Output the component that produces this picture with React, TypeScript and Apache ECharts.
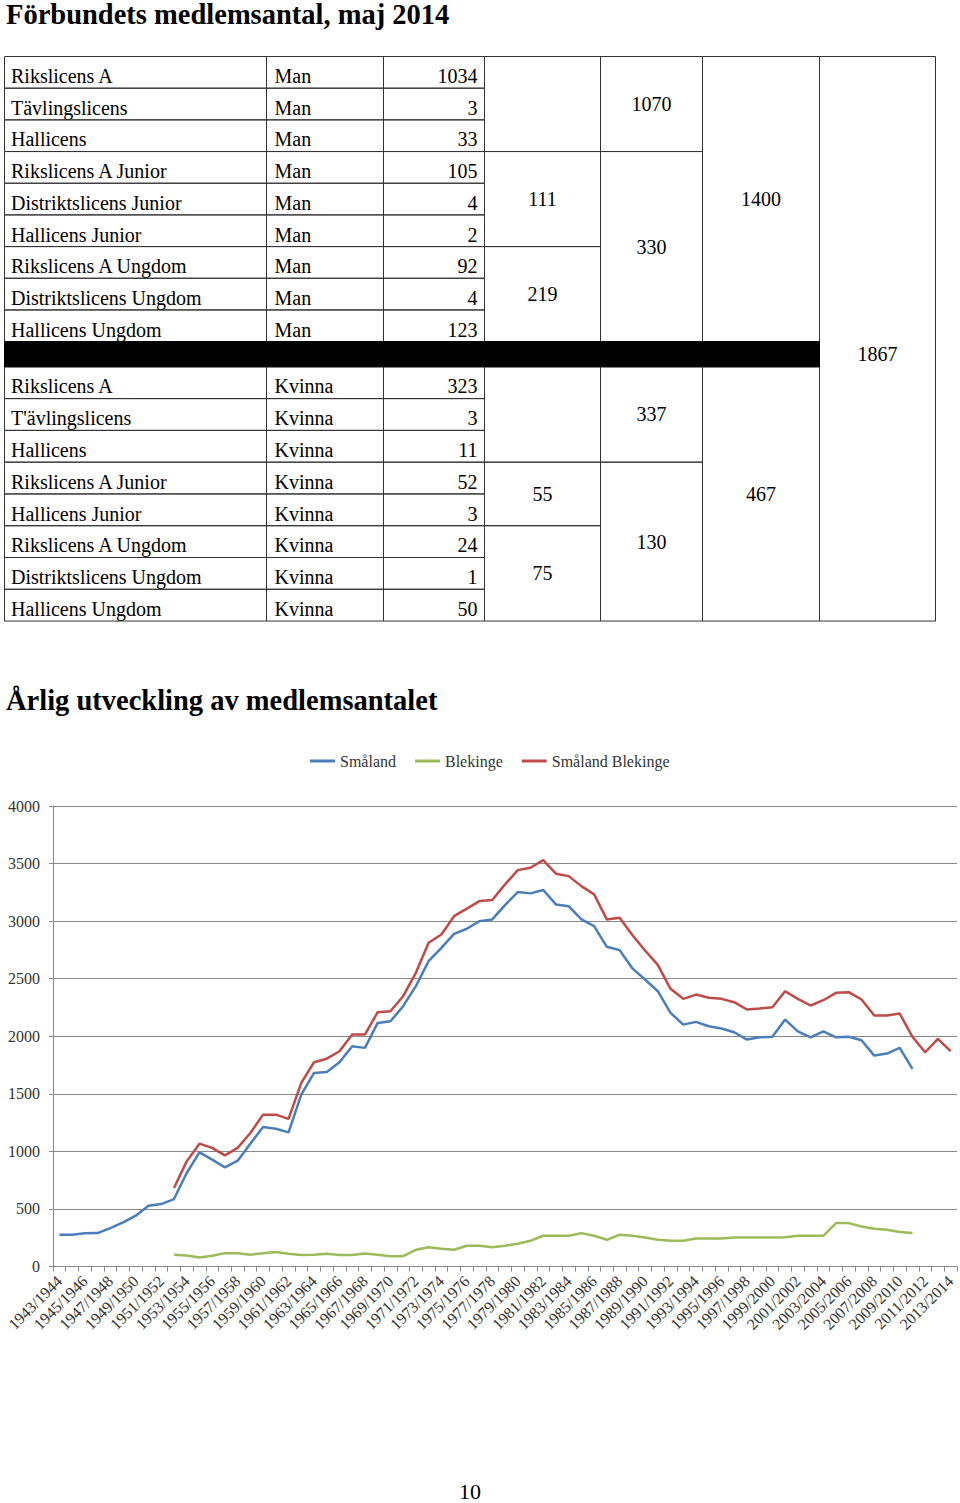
import React, { useEffect, useRef } from "react";
import * as echarts from "echarts";

// ---------- DATA ----------
const pageTitle = "Förbundets medlemsantal, maj 2014";
const chartTitle = "Årlig utveckling av medlemsantalet";
const pageNumber = "10";

const manNames = [
  "Rikslicens A",
  "Tävlingslicens",
  "Hallicens",
  "Rikslicens A Junior",
  "Distriktslicens Junior",
  "Hallicens Junior",
  "Rikslicens A Ungdom",
  "Distriktslicens Ungdom",
  "Hallicens Ungdom",
];
const manValues = [1034, 3, 33, 105, 4, 2, 92, 4, 123];
// merged sub-totals: [firstRow, endRowExclusive, text]
const manGroupCol4: [number, number, string][] = [[0, 3, ""], [3, 6, "111"], [6, 9, "219"]];
const manGroupCol5: [number, number, string][] = [[0, 3, "1070"], [3, 9, "330"]];
const manGroupCol6: [number, number, string][] = [[0, 9, "1400"]];

const kvinnaNames = [
  "Rikslicens A",
  "T'ävlingslicens",
  "Hallicens",
  "Rikslicens A Junior",
  "Hallicens Junior",
  "Rikslicens A Ungdom",
  "Distriktslicens Ungdom",
  "Hallicens Ungdom",
];
const kvinnaValues = [323, 3, 11, 52, 3, 24, 1, 50];
const kvGroupCol4: [number, number, string][] = [[0, 3, ""], [3, 5, "55"], [5, 8, "75"]];
const kvGroupCol5: [number, number, string][] = [[0, 3, "337"], [3, 8, "130"]];
const kvGroupCol6: [number, number, string][] = [[0, 8, "467"]];
const grandTotal = "1867";

const seasons: string[] = [];
for (let y = 1943; y <= 2013; y++) seasons.push(`${y}/${y + 1}`);

const seriesNames = ["Småland", "Blekinge", "Småland Blekinge"];

const smaland: (number | null)[] = [
  276, 275, 288, 290, 334, 383, 441, 528, 542, 586,
  812, 991, 928, 861, 919, 1067, 1212, 1197, 1165, 1493,
  1681, 1690, 1774, 1913, 1899, 2116, 2130, 2261, 2435, 2652,
  2768, 2890, 2934, 3000, 3015, 3139, 3252, 3241, 3270, 3145,
  3130, 3015, 2957, 2777, 2748, 2590, 2493, 2391, 2203, 2101,
  2125, 2087, 2067, 2035, 1971, 1991, 1995, 2145, 2043, 1991,
  2043, 1991, 1995, 1965, 1832, 1850, 1899, 1716, null, null,
  null,
];

const blekinge: (number | null)[] = [
  null, null, null, null, null, null, null, null, null, 102,
  96, 79, 93, 116, 116, 102, 116, 125, 110, 99,
  102, 110, 99, 99, 113, 102, 90, 90, 145, 168,
  154, 145, 180, 180, 168, 180, 197, 223, 267, 267,
  267, 290, 267, 232, 276, 267, 252, 232, 223, 223,
  244, 244, 244, 252, 252, 252, 252, 255, 267, 267,
  267, 377, 377, 348, 328, 319, 299, 290, null, null,
  null,
];

const smalandBlekinge: (number | null)[] = [
  null, null, null, null, null, null, null, null, null, 682,
  913, 1067, 1030, 965, 1030, 1160, 1319, 1319, 1282, 1595,
  1774, 1805, 1870, 2015, 2015, 2209, 2217, 2348, 2551, 2812,
  2884, 3043, 3108, 3174, 3183, 3319, 3443, 3464, 3530, 3412,
  3391, 3304, 3232, 3015, 3030, 2880, 2745, 2620, 2412, 2325,
  2362, 2334, 2325, 2296, 2232, 2241, 2252, 2391, 2325, 2267,
  2313, 2377, 2383, 2319, 2180, 2180, 2197, 1995, 1861, 1977,
  1870,
];

// ---------- STYLE / LAYOUT ----------
const FONT = '"Liberation Serif", "Times New Roman", serif';
const LINE = "#333333";
const colX = [4.5, 266.5, 383.5, 484.5, 600.5, 702.5, 819.5, 935.5];
const manTop = 56.5;
const manRowH = 31.68;
const barTop = manTop + 9 * manRowH;
const barH = 25.2;
const kvTop = barTop + barH;
const kvRowH = 31.78;
const tableBottom = kvTop + 8 * kvRowH;

function rectEl(x: number, y: number, w: number, h: number, fill = "none") {
  return {
    type: "rect",
    silent: true,
    shape: { x, y, width: w, height: h },
    style: { fill, stroke: fill === "none" ? LINE : fill, lineWidth: 1 },
  };
}

function textEl(
  text: string,
  x: number,
  y: number,
  align: string,
  size: number,
  weight = "normal"
) {
  return {
    type: "text",
    silent: true,
    style: {
      text,
      x,
      y,
      fill: "#000",
      fontSize: size,
      fontFamily: FONT,
      fontWeight: weight,
      align,
      textAlign: align,
      verticalAlign: "middle",
      textVerticalAlign: "middle",
    },
  };
}

function buildTable() {
  const els: any[] = [];
  const block = (
    top: number,
    rowH: number,
    names: string[],
    gender: string,
    values: number[],
    g4: [number, number, string][],
    g5: [number, number, string][],
    g6: [number, number, string][]
  ) => {
    names.forEach((name, i) => {
      const y = top + i * rowH;
      els.push(rectEl(colX[0], y, colX[1] - colX[0], rowH));
      els.push(rectEl(colX[1], y, colX[2] - colX[1], rowH));
      els.push(rectEl(colX[2], y, colX[3] - colX[2], rowH));
      els.push(textEl(name, 11, y + 19.6, "left", 20));
      els.push(textEl(gender, 274.5, y + 19.6, "left", 20));
      els.push(textEl(String(values[i]), colX[3] - 7, y + 19.6, "right", 20));
    });
    const groups: [number, [number, number, string][]][] = [[3, g4], [4, g5], [5, g6]];
    groups.forEach(([c, gs]) => {
      gs.forEach(([a, b, t]) => {
        const y = top + a * rowH;
        const h = (b - a) * rowH;
        els.push(rectEl(colX[c], y, colX[c + 1] - colX[c], h));
        if (t) els.push(textEl(t, (colX[c] + colX[c + 1]) / 2, y + h / 2, "center", 20));
      });
    });
  };
  block(manTop, manRowH, manNames, "Man", manValues, manGroupCol4, manGroupCol5, manGroupCol6);
  block(kvTop, kvRowH, kvinnaNames, "Kvinna", kvinnaValues, kvGroupCol4, kvGroupCol5, kvGroupCol6);
  els.push(rectEl(colX[6], manTop, colX[7] - colX[6], tableBottom - manTop));
  els.push(rectEl(colX[0], barTop, colX[6] - colX[0], barH, "#000"));
  els.push(textEl(grandTotal, (colX[6] + colX[7]) / 2, barTop + barH / 2, "center", 20));
  return els;
}

export default function App() {
  const ref = useRef<HTMLDivElement>(null);
  useEffect(() => {
    document.body.style.background = "#fff";
    const chart = echarts.init(ref.current!, null, { renderer: "svg" });
    const lineColors = ["#4a7ebb", "#9bbb59", "#be4b48"];
    const datasets = [smaland, blekinge, smalandBlekinge];
    const option: any = {
      animation: false,
      backgroundColor: "#ffffff",
      textStyle: { fontFamily: FONT },
      legend: {
        left: 305,
        top: 748,
        icon: "rect",
        itemWidth: 25,
        itemHeight: 3,
        itemGap: 19,
        data: seriesNames,
        textStyle: { fontSize: 16, color: "#333", fontFamily: FONT },
      },
      grid: {
        left: 53,
        top: 806,
        width: 904,
        height: 460.5,
        containLabel: false,
        outerBoundsMode: "none",
      },
      xAxis: {
        type: "category",
        data: seasons,
        boundaryGap: true,
        axisLine: { show: true, lineStyle: { color: "#888", width: 1 } },
        axisTick: {
          show: true,
          interval: 0,
          alignWithLabel: false,
          length: 5,
          lineStyle: { color: "#888" },
        },
        axisLabel: {
          interval: 1,
          rotate: 45,
          fontSize: 16,
          color: "#333",
          margin: 12,
          fontFamily: FONT,
        },
        splitLine: { show: false },
      },
      yAxis: {
        type: "value",
        min: 0,
        max: 4000,
        interval: 500,
        axisLine: { show: true, lineStyle: { color: "#888", width: 1 } },
        axisTick: { show: true, length: 4, lineStyle: { color: "#888" } },
        splitLine: { show: true, lineStyle: { color: "#888", width: 1 } },
        axisLabel: {
          fontSize: 16,
          color: "#333",
          margin: 13,
          fontFamily: FONT,
          formatter: (v: number) => String(v),
        },
      },
      series: seriesNames.map((name, i) => ({
        name,
        type: "line",
        data: datasets[i],
        symbol: "none",
        showSymbol: false,
        connectNulls: false,
        color: lineColors[i],
        lineStyle: { color: lineColors[i], width: 2.5 },
        itemStyle: { color: lineColors[i] },
        emphasis: { disabled: true },
      })),
      graphic: {
        elements: [
          textEl(pageTitle, 6, 14, "left", 28.5, "bold"),
          ...buildTable(),
          textEl(chartTitle, 6, 700.5, "left", 28.5, "bold"),
          textEl(pageNumber, 470, 1491, "center", 22),
        ],
      },
    };
    chart.setOption(option);
    return () => chart.dispose();
  }, []);
  return (
    <div
      ref={ref}
      style={{ position: "absolute", left: 0, top: 0, width: 960, height: 1503, background: "#fff" }}
    />
  );
}
